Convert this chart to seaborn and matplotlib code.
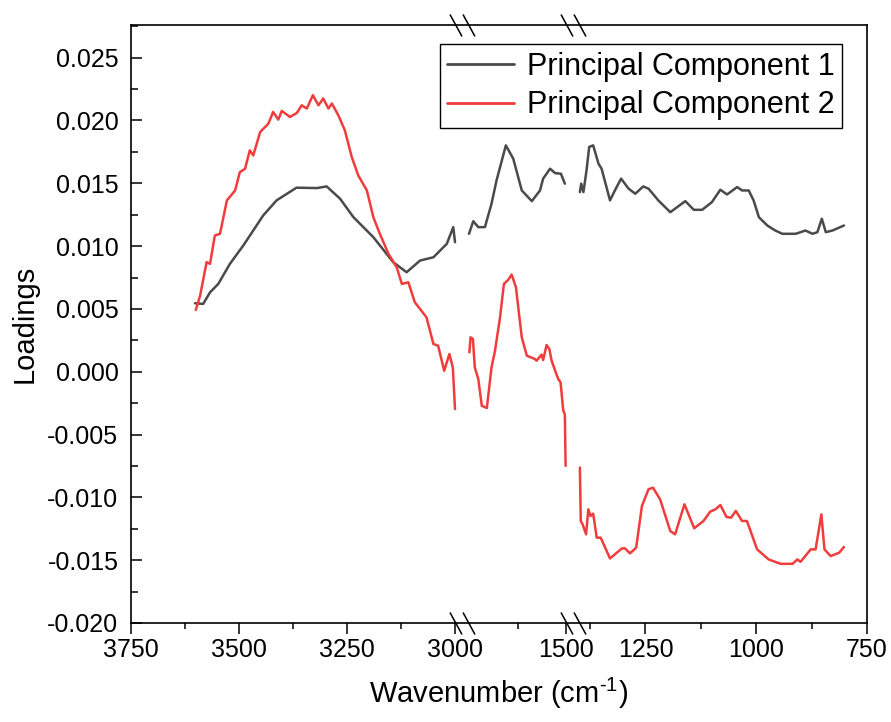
import numpy as np
import pandas as pd
import matplotlib
matplotlib.use("Agg")
from matplotlib import pyplot as plt
from matplotlib.path import Path
from matplotlib.ticker import FixedLocator, MultipleLocator, FuncFormatter
from matplotlib.transforms import blended_transform_factory
import seaborn as sns

# ---- data: Principal Component 1 (three axis segments) ----
pc1_wn_a = [3602, 3583, 3567, 3548, 3521, 3490, 3444, 3413, 3367, 3320, 3297,
            3266, 3235, 3189, 3143, 3112, 3081, 3050, 3019, 3004, 3000]
pc1_a = [0.00545, 0.0054, 0.00632, 0.00699, 0.00859, 0.01005, 0.01244, 0.01364,
         0.01465, 0.01462, 0.01475, 0.01377, 0.0123, 0.01071, 0.00872, 0.00792,
         0.00885, 0.00911, 0.01018, 0.01151, 0.01031]
pc1_wn_b = [1750, 1739, 1726, 1709, 1692, 1679, 1655, 1636, 1614, 1588, 1567,
            1559, 1541, 1528, 1513, 1503]
pc1_b = [0.01098, 0.01198, 0.01151, 0.01151, 0.01337, 0.01523, 0.01802, 0.01696,
         0.01443, 0.01358, 0.01443, 0.01537, 0.01616, 0.01581, 0.01576, 0.01497]
pc1_wn_c = [1398, 1395, 1390, 1383, 1377, 1368, 1356, 1349, 1330, 1319, 1305,
            1288, 1273, 1255, 1243, 1221, 1194, 1160, 1141, 1122, 1100, 1081,
            1066, 1043, 1032, 1017, 1006, 994, 975, 957, 941, 911, 889, 873,
            862, 852, 843, 828, 802]
pc1_c = [0.0143, 0.01497, 0.0143, 0.01603, 0.01789, 0.01802, 0.01656, 0.01616,
         0.01364, 0.01443, 0.01537, 0.01457, 0.01417, 0.01475, 0.01457, 0.01364,
         0.0127, 0.01358, 0.01289, 0.01289, 0.0135, 0.01449, 0.01411, 0.0147,
         0.01443, 0.01443, 0.01364, 0.0123, 0.01164, 0.01124, 0.01098, 0.01098,
         0.01124, 0.01098, 0.01111, 0.01218, 0.01111, 0.01124, 0.01164]

# ---- data: Principal Component 2 ----
pc2_wn_a = [3600, 3590, 3575, 3567, 3556, 3544, 3528, 3509, 3498, 3486, 3475,
            3467, 3451, 3432, 3421, 3409, 3401, 3382, 3366, 3355, 3343, 3329,
            3316, 3305, 3293, 3285, 3270, 3255, 3239, 3224, 3204, 3189, 3174,
            3154, 3135, 3123, 3108, 3093, 3066, 3050, 3039, 3025, 3013, 3005, 3000]
pc2_a = [0.00492, 0.00606, 0.00872, 0.00859, 0.01084, 0.01098, 0.01364, 0.01443,
         0.01589, 0.01616, 0.01762, 0.01722, 0.01908, 0.01975, 0.02068, 0.02007,
         0.02076, 0.02028, 0.0206, 0.02121, 0.02095, 0.02201, 0.02121, 0.02175,
         0.02095, 0.02135, 0.02041, 0.01922, 0.01709, 0.01563, 0.01443, 0.0123,
         0.01098, 0.00939, 0.00832, 0.00699, 0.00712, 0.00553, 0.00433, 0.00221,
         0.00207, 0.00008, 0.00141, 0.00034, -0.00297]
pc2_wn_b = [1749, 1746, 1740, 1735, 1726, 1717, 1704, 1692, 1683, 1670, 1660,
            1649, 1640, 1629, 1614, 1601, 1580, 1576, 1563, 1559, 1550, 1543,
            1537, 1528, 1520, 1514, 1507, 1503, 1501]
pc2_b = [0.00154, 0.00274, 0.00261, 0.00034, -0.00058, -0.00271, -0.00289,
         0.00034, 0.00167, 0.00433, 0.00699, 0.00731, 0.00773, 0.00672, 0.00274,
         0.00128, 0.00101, 0.00088, 0.00136, 0.00093, 0.00213, 0.00181, 0.00088,
         0.00008, -0.00058, -0.00085, -0.00311, -0.00337, -0.0075]
pc2_wn_c = [1398, 1396, 1392, 1384, 1379, 1374, 1368, 1360, 1351, 1330, 1303,
            1296, 1285, 1271, 1258, 1243, 1233, 1217, 1194, 1183, 1162, 1140,
            1119, 1104, 1092, 1081, 1067, 1057, 1046, 1032, 1021, 998, 972, 945,
            918, 907, 900, 877, 866, 853, 846, 832, 813, 802]
pc2_c = [-0.00763, -0.01188, -0.01214, -0.01294, -0.01095, -0.01148, -0.0113,
         -0.01321, -0.01321, -0.01486, -0.01406, -0.01406, -0.01446, -0.01401,
         -0.01069, -0.00935, -0.00923, -0.01015, -0.01268, -0.01294, -0.01055,
         -0.01246, -0.01188, -0.01114, -0.01095, -0.01061, -0.01156, -0.01162,
         -0.01108, -0.01188, -0.01188, -0.01414, -0.01494, -0.01529, -0.01529,
         -0.01494, -0.01513, -0.01414, -0.01414, -0.01135, -0.01414, -0.01467,
         -0.01441, -0.01395]

labels = ["Principal Component 1", "Principal Component 2"]
colors = ["#4a4a4a", "#f03c3c"]

x_major = [3750, 3500, 3250, 3000, 1500, 1250, 1000, 750]
x_minor = [3625, 3375, 3125, 1625, 1375, 1125, 875]

frames = []
for lab, parts in zip(labels, [[(pc1_wn_a, pc1_a), (pc1_wn_b, pc1_b), (pc1_wn_c, pc1_c)],
                               [(pc2_wn_a, pc2_a), (pc2_wn_b, pc2_b), (pc2_wn_c, pc2_c)]]):
    for i, (wn, val) in enumerate(parts):
        frames.append(pd.DataFrame({"wn": wn, "loading": val,
                                    "component": lab, "segment": i}))
df = pd.concat(frames, ignore_index=True)

sns.set_style("ticks")
plt.rcParams["font.family"] = ["Liberation Sans", "DejaVu Sans"]
plt.rcParams["mathtext.fontset"] = "custom"
plt.rcParams["mathtext.rm"] = "Liberation Sans"
plt.rcParams["mathtext.it"] = "Liberation Sans:italic"
plt.rcParams["axes.unicode_minus"] = False
for k in ["text.color", "axes.labelcolor", "xtick.color", "ytick.color"]:
    plt.rcParams[k] = "black"

fig = plt.figure(figsize=(8.91, 7.22), dpi=100)
ax = fig.add_axes([131 / 891, 99 / 722, 736 / 891, 598 / 722])

sns.lineplot(data=df, x="wn", y="loading", hue="component", units="segment",
             estimator=None, sort=False, palette=dict(zip(labels, colors)),
             linewidth=1.8, ax=ax)

# broken x axis: piecewise linear scale (axis position for each break edge)
knot_wn = [-10000, 750, 1400, 1500, 1750, 3000, 3750, 20000]
knot_pos = [-10750 * 0.442, 0, 288, 301, 398, 412, 736, 736 + 16250 * 0.432]


def fwd(x):
    return np.interp(np.asarray(x, dtype=float), knot_wn, knot_pos)


def inv(p):
    return np.interp(np.asarray(p, dtype=float), knot_pos, knot_wn)


ax.set_xscale("function", functions=(fwd, inv))

ax.xaxis.set_major_locator(FixedLocator(x_major))
ax.xaxis.set_minor_locator(FixedLocator(x_minor))
ax.xaxis.set_major_formatter(FuncFormatter(lambda v, p: f"{v:.0f}"))
ax.xaxis.set_minor_formatter(FuncFormatter(lambda v, p: ""))
ax.yaxis.set_major_locator(MultipleLocator(0.005))
ax.yaxis.set_minor_locator(MultipleLocator(0.0025))
ax.yaxis.set_major_formatter(FuncFormatter(
    lambda v, p: "%.3f" % (v if abs(v) > 1e-9 else 0.0)))

ax.tick_params(axis="x", which="major", direction="out", length=7.7, width=1.1,
               labelsize=18, pad=3, top=False, colors="black")
ax.tick_params(axis="x", which="minor", direction="out", length=4.2, width=1.1,
               top=False, colors="black")
ax.tick_params(axis="y", which="major", direction="in", length=7.7, width=1.1,
               labelsize=18, pad=9, right=False, colors="black")
ax.tick_params(axis="y", which="minor", direction="in", length=4.8, width=1.1,
               right=False, colors="black")
for s in ax.spines.values():
    s.set_visible(True)
    s.set_linewidth(1.2)
    s.set_color("black")

ax.set_xlabel(r"Wavenumber (cm$^{\text{-1}}$)", fontsize=21, labelpad=10)
ax.set_ylabel("Loadings", fontsize=21, labelpad=6)

# break marks on top and bottom spines
slash = Path([(-12.5, 11), (-0.5, -11), (0.5, 11), (12.5, -11)],
             [Path.MOVETO, Path.LINETO, Path.MOVETO, Path.LINETO])
trans = blended_transform_factory(ax.transData, ax.transAxes)
for b in [2375, 1450]:
    ax.plot([b, b], [0, 1], transform=trans, linestyle="none", marker=slash,
            markersize=18, markeredgecolor="black", markeredgewidth=1.1,
            clip_on=False, zorder=5)
ax.set_xlim(3750, 750)
ax.set_ylim(-0.020, 0.0276)

sns.move_legend(ax, "upper right", bbox_to_anchor=(0.966, 0.968), title=None,
                frameon=True, fontsize=22, borderaxespad=0, borderpad=0.25,
                handlelength=2.2, handletextpad=0.4, labelspacing=0.28,
                fancybox=False, edgecolor="black", framealpha=1)
leg = ax.get_legend()
leg.get_frame().set_linewidth(1.0)
for h in leg.legend_handles:
    h.set_linewidth(2.0)
for t in leg.get_texts():
    t.set_color("black")

fig.savefig("out.png", dpi=100)
